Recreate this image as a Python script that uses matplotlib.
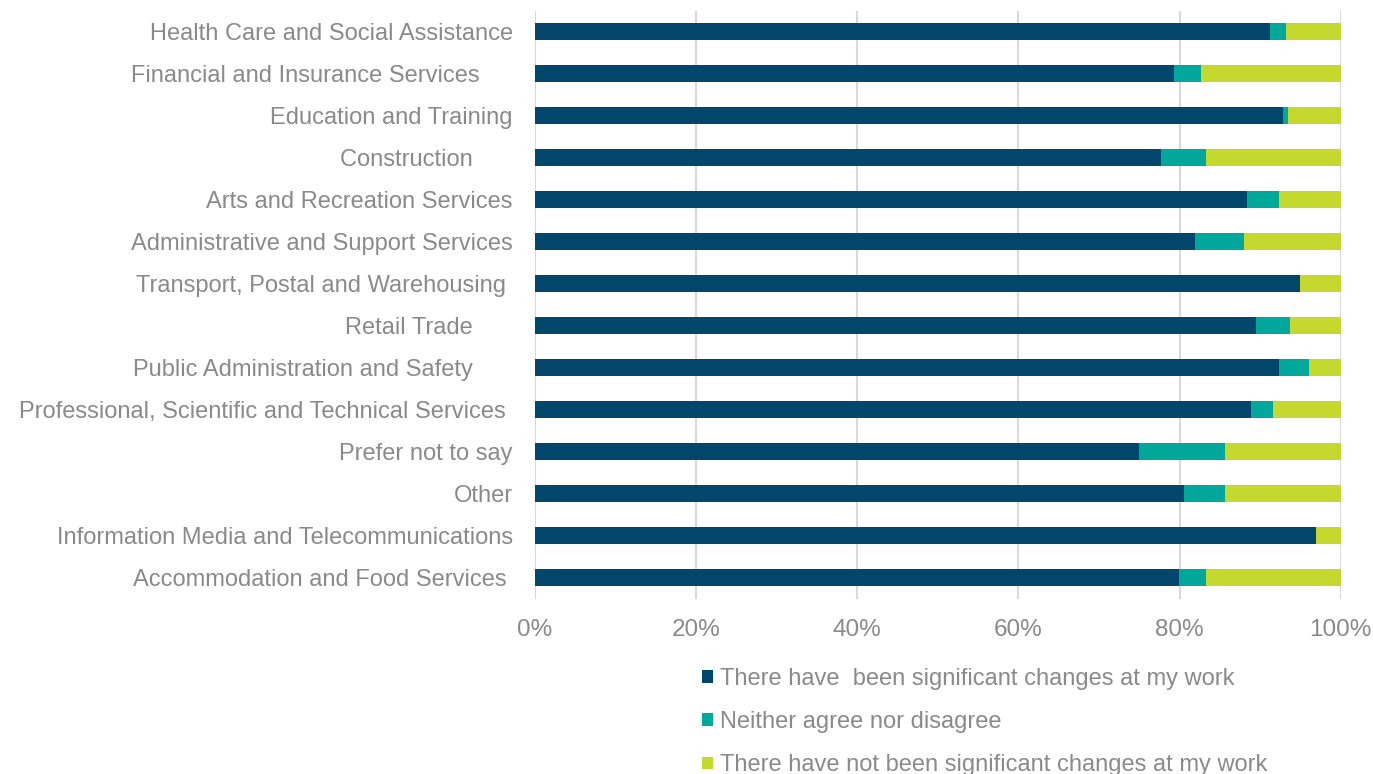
import numpy as np
import matplotlib.pyplot as plt
from matplotlib.patches import Patch

plt.rcParams['font.family'] = ['Liberation Sans', 'DejaVu Sans']

# industries, top to bottom
industrias = [
    "Health Care and Social Assistance",
    "Financial and Insurance Services     ",
    "Education and Training",
    "Construction      ",
    "Arts and Recreation Services",
    "Administrative and Support Services",
    "Transport, Postal and Warehousing ",
    "Retail Trade      ",
    "Public Administration and Safety      ",
    "Professional, Scientific and Technical Services ",
    "Prefer not to say",
    "Other",
    "Information Media and Telecommunications",
    "Accommodation and Food Services ",
]

# percentage of respondents per answer
cambios_si = [91.2, 79.3, 92.8, 77.7, 88.4, 81.9, 95.0, 89.5, 92.3, 88.9, 75.0, 80.5, 96.9, 79.9]
neutral = [2.0, 3.4, 0.7, 5.6, 3.9, 6.1, 0.0, 4.2, 3.8, 2.7, 10.7, 5.2, 0.0, 3.4]
cambios_no = [100 - a - b for a, b in zip(cambios_si, neutral)]

series = [
    ("There have  been significant changes at my work", cambios_si, "#00476B"),
    ("Neither agree nor disagree", neutral, "#00A89C"),
    ("There have not been significant changes at my work", cambios_no, "#C4D82E"),
]

gris = "#8A8A8A"
fs = 17

fig = plt.figure(figsize=(13.73, 7.74), dpi=100)
ax = fig.add_axes([535 / 1373, 1 - 598.5 / 774, (1340.7 - 535) / 1373, 588 / 774])

y = np.arange(len(industrias))[::-1]
izq = np.zeros(len(industrias))
for nombre, vals, color in series:
    vals = np.array(vals, dtype=float)
    ax.barh(y, vals, left=izq, height=0.4, color=color, label=nombre, zorder=3)
    izq += vals

ax.set_xlim(0, 100)
ax.set_ylim(-0.5, len(industrias) - 0.5)
ax.set_xticks(np.arange(0, 101, 20))
ax.set_xticklabels([f"{v}%" for v in range(0, 101, 20)])
ax.set_yticks(y)
ax.set_yticklabels(industrias)
ax.tick_params(axis="both", length=0, colors=gris, labelsize=fs)
ax.tick_params(axis="x", labelsize=17.5)
ax.tick_params(axis="y", pad=16)
ax.tick_params(axis="x", pad=15)
ax.grid(axis="x", color="#D9D9D9", linewidth=1.5, zorder=0)
for s in ax.spines.values():
    s.set_visible(False)

handles = [Patch(facecolor=c, label=n) for n, _, c in series]
leg = fig.legend(handles=handles, loc="upper left", bbox_to_anchor=(702 / 1373, 1 - 668 / 774),
                 frameon=False, fontsize=fs, handlelength=0.45, handleheight=0.45,
                 handletextpad=0.3, labelspacing=0.9, borderaxespad=0, borderpad=0)
for t in leg.get_texts():
    t.set_color(gris)

fig.savefig("out.png", dpi=100)
